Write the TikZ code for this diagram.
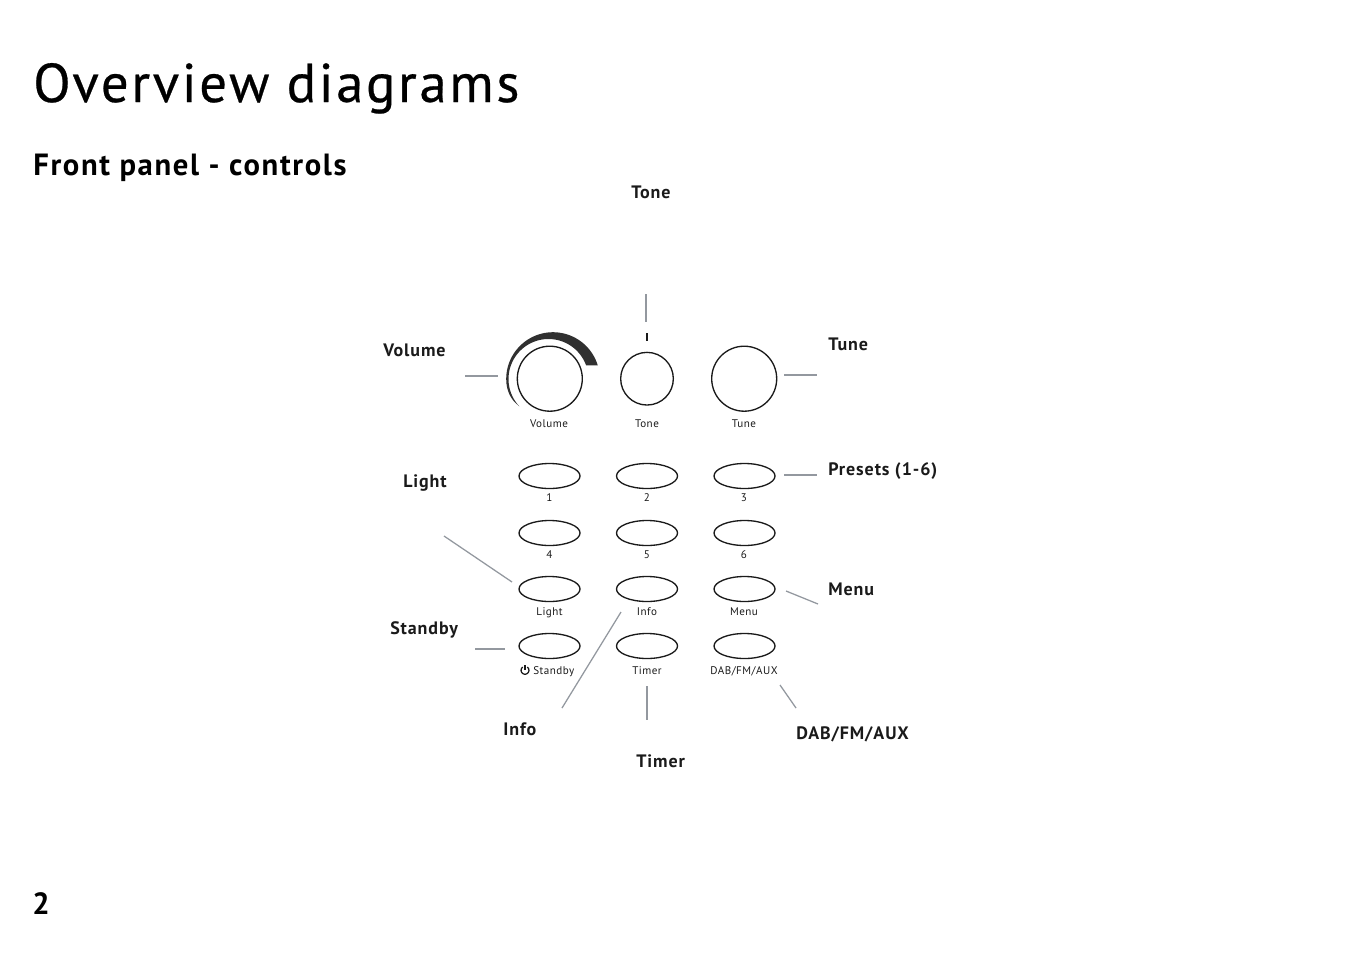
\documentclass[tikz,border=0pt]{standalone}
\usepackage{fontspec}
\setmainfont{PT Sans}
\usetikzlibrary{shapes.geometric}
\definecolor{ink}{HTML}{1A1A1A}
\definecolor{swoosh}{HTML}{303030}
\definecolor{leader}{HTML}{93989F}
\newfontfamily\titlefont[LetterSpace=5,FakeBold=0.5]{PT Sans}
\newfontfamily\headfont[LetterSpace=5.4]{PT Sans Bold}
\newfontfamily\callfont[LetterSpace=5]{PT Sans Bold}
\newfontfamily\smallfont[LetterSpace=4.5]{PT Sans}
\tikzset{
  x=0.75pt,y=-0.75pt,
  btn/.style={draw=ink,line width=1pt,ellipse,inner sep=0pt,minimum width=45.75pt,minimum height=18.75pt},
  knob/.style={draw=ink,line width=1pt,circle,inner sep=0pt},
  small/.style={text=ink,font=\fontsize{8.3}{9}\selectfont\smallfont,inner sep=0pt,anchor=base},
  callout/.style={text=ink,font=\fontsize{13.5}{15}\selectfont\callfont,inner sep=0pt,anchor=base west},
  lead/.style={draw=leader,line width=0.95pt},
  head/.style={text=black,font=\fontsize{23}{26}\selectfont\headfont,inner sep=0pt,anchor=base west},
}
\begin{document}
\begin{tikzpicture}
\useasboundingbox (0,0) rectangle (1352,954);
% headings
\node[text=black,font=\fontsize{41}{45}\selectfont\titlefont,inner sep=0pt,anchor=base west] (title) at (33,102) {Overview diagrams};
\node[head] (sub) at (33,175) {Front panel - controls};
\node[head] (page) at (32,914) {2};
% knobs
\node[knob,minimum size=48.75pt] (kvol) at (549.8,378.7) {};
\node[knob,minimum size=39.5pt] (ktone) at (647,378.7) {};
\node[knob,minimum size=48.75pt] (ktune) at (744.2,378.7) {};
\fill[swoosh] plot[domain=17:180,samples=50] ({553+46.8*cos(\x)},{379-46.8*sin(\x)})
  .. controls (506.2,391) and (511,400) .. (519,406)
  -- plot[domain=223:20,samples=60] ({548.5+40*cos(\x)},{379-40*sin(\x)}) -- cycle;
\draw[ink,line width=1.6pt] (647,333) -- (647,341);
\node[small] (lvol) at (549,427) {Volume};
\node[small] (ltone) at (647,427) {Tone};
\node[small] (ltune) at (744,427) {Tune};
% buttons
\foreach \n/\x in {a/549.5,b/647,c/744.5}{
  \foreach \m/\y in {1/476,2/533,3/589,4/646}{
    \node[btn] (b\n\m) at (\x,\y) {};
  }
}
\node[small] (t1) at (549.5,501) {1};
\node[small] (t2) at (647,501) {2};
\node[small] (t3) at (744,501) {3};
\node[small] (t4) at (549.5,558) {4};
\node[small] (t5) at (647,558) {5};
\node[small] (t6) at (744,558) {6};
\node[small] (tlight) at (549.5,615) {Light};
\node[small] (tinfo) at (647,615) {Info};
\node[small] (tmenu) at (744,615) {Menu};
\node[small,anchor=base west] (tstandby) at (533,674) {Standby};
\draw[ink,line width=0.95pt] plot[domain=55:-235,samples=40] ({525+3.9*cos(\x)},{670.3-3.9*sin(\x)});
\draw[ink,line width=0.95pt] (525,665.3) -- (525,670.2);
\node[small] (ttimer) at (647,674) {Timer};
\node[small] (tdab) at (744,674) {DAB/FM/AUX};
% callouts
\node[callout] (cvol) at (383,356) {Volume};
\node[callout] (ctone) at (631,198) {Tone};
\node[callout] (ctune) at (828,350) {Tune};
\node[callout] (cpre) at (828,475) {Presets (1-6)};
\node[callout] (clight) at (403,487) {Light};
\node[callout] (cmenu) at (828,595) {Menu};
\node[callout] (cstand) at (390,634) {Standby};
\node[callout] (cinfo) at (503,735) {Info};
\node[callout] (ctimer) at (636,767) {Timer};
\node[callout] (cdab) at (796,739) {DAB/FM/AUX};
% leaders
\coordinate (p1a) at (465,376); \coordinate (p1b) at (497.5,376);
\coordinate (p2a) at (646,294); \coordinate (p2b) at (646,322);
\coordinate (p3a) at (784,375); \coordinate (p3b) at (817,375);
\coordinate (p4a) at (784,475); \coordinate (p4b) at (817,475);
\coordinate (p5a) at (444,536); \coordinate (p5b) at (512,582);
\coordinate (p6a) at (786,591); \coordinate (p6b) at (818,604);
\coordinate (p7a) at (475,649); \coordinate (p7b) at (505,649);
\coordinate (p8a) at (621,612); \coordinate (p8b) at (562,708);
\coordinate (p9a) at (647,686); \coordinate (p9b) at (647,720);
\coordinate (p10a) at (780,685); \coordinate (p10b) at (796,708);
\foreach \i in {1,...,10}{\draw[lead] (p\i a) -- (p\i b);}
\end{tikzpicture}
\end{document}
